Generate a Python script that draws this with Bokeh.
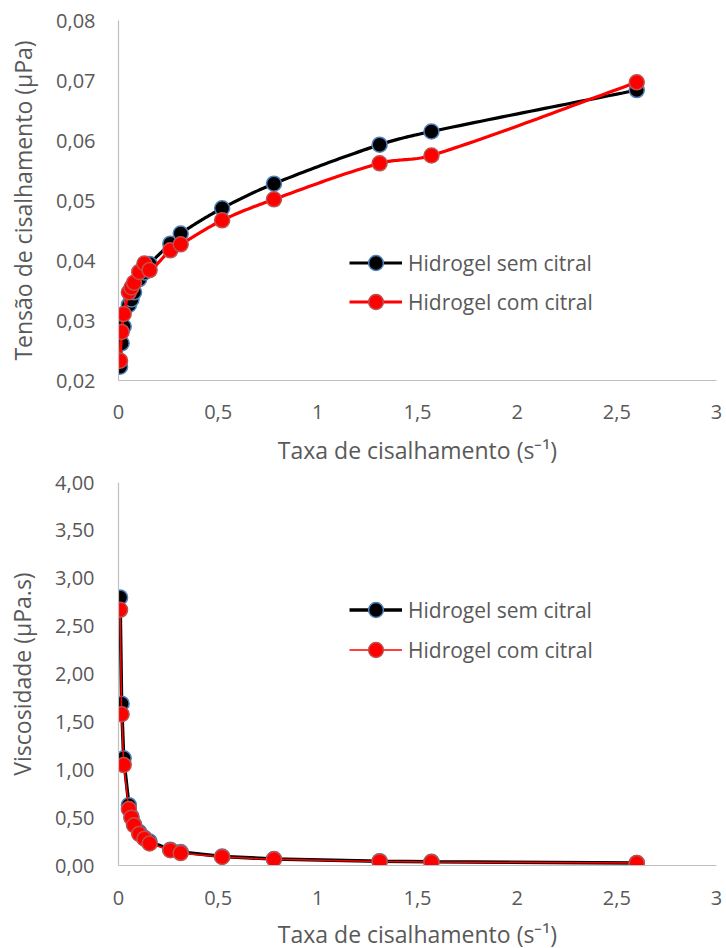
import numpy as np
from bokeh.plotting import figure
from bokeh.models import (FixedTicker, CustomJSTickFormatter, Range1d, Legend, LegendItem)
from bokeh.core.properties import value
from bokeh.layouts import column
from bokeh.embed import file_html
from bokeh.resources import INLINE

# ---------------- data ----------------
shear_rate = [0.0078, 0.0156, 0.026, 0.052, 0.065, 0.078, 0.104, 0.13, 0.156,
              0.26, 0.312, 0.52, 0.78, 1.31, 1.57, 2.60]

stress_sem = [0.0223, 0.0262, 0.0290, 0.0326, 0.0335, 0.0347, 0.0369, 0.0380, 0.0394,
              0.0428, 0.0445, 0.0487, 0.0528, 0.0593, 0.0615, 0.0684]
stress_com = [0.0233, 0.0281, 0.0311, 0.0347, 0.0355, 0.0363, 0.0381, 0.0395, 0.0384,
              0.0417, 0.0427, 0.0467, 0.0502, 0.0562, 0.0575, 0.0697]

visc_sem = [2.80, 1.69, 1.12, 0.63, 0.51, 0.43, 0.35, 0.29, 0.25,
            0.165, 0.14, 0.094, 0.068, 0.045, 0.039, 0.026]
visc_com = [2.67, 1.58, 1.05, 0.59, 0.50, 0.42, 0.33, 0.28, 0.23,
            0.16, 0.13, 0.09, 0.064, 0.043, 0.036, 0.027]

series_names = ["Hidrogel sem citral", "Hidrogel com citral"]

x_ticks = [0, 0.5, 1, 1.5, 2, 2.5, 3]
x_tick_labels = ["0", "0,5", "1", "1,5", "2", "2,5", "3"]
y1_ticks = [0.02, 0.03, 0.04, 0.05, 0.06, 0.07, 0.08]
y1_tick_labels = ["0,02", "0,03", "0,04", "0,05", "0,06", "0,07", "0,08"]
y2_ticks = [0, 0.5, 1, 1.5, 2, 2.5, 3, 3.5, 4]
y2_tick_labels = ["0,00", "0,50", "1,00", "1,50", "2,00", "2,50", "3,00", "3,50", "4,00"]

x_title = "Taxa de cisalhamento (s\u207b\u00b9)"
y1_title = "Tensão de cisalhamento (µPa)"
y2_title = "Viscosidade (µPa.s)"

# ---------------- style ----------------
FONT = "Open Sans"
TXT = "#595959"
AXIS = "#BFBFBF"
BLACK_OUT = "#4F81BD"
RED_OUT = "#C0504D"


def smooth(xs, ys, n=30):
    """Smoothed line through the points (cubic Hermite, parametrised by x)."""
    x = np.asarray(xs, float)
    y = np.asarray(ys, float)
    m = len(x)
    slopes = np.empty(m)
    for i in range(m):
        a = max(i - 1, 0)
        b = min(i + 1, m - 1)
        slopes[i] = (y[b] - y[a]) / (x[b] - x[a])
    ox, oy = [x[0]], [y[0]]
    for i in range(m - 1):
        h = x[i + 1] - x[i]
        t = np.linspace(0, 1, n)[1:]
        h00 = 2 * t**3 - 3 * t**2 + 1
        h10 = t**3 - 2 * t**2 + t
        h01 = -2 * t**3 + 3 * t**2
        h11 = t**3 - t**2
        ox.extend(x[i] + t * h)
        oy.extend(h00 * y[i] + h10 * h * slopes[i] + h01 * y[i + 1] + h11 * h * slopes[i + 1])
    return np.array(ox), np.array(oy)


def fmt(ticks, labels):
    return CustomJSTickFormatter(args=dict(t=ticks, l=labels), code="""
        let best = 0; let d = 1e9;
        for (let i = 0; i < t.length; i++) {
            const dd = Math.abs(t[i] - tick);
            if (dd < d) { d = dd; best = i; }
        }
        return l[best];
    """)


def base_fig(height, left, right, top, bottom, yr, yt, ylab, ytitle, ystand, xstand, with_xtitle):
    p = figure(width=726, height=height, output_backend="svg", toolbar_location=None,
               x_range=Range1d(0, 3), y_range=Range1d(*yr),
               min_border_left=left, min_border_right=right,
               min_border_top=top, min_border_bottom=bottom)
    p.outline_line_color = None
    p.xgrid.visible = False
    p.ygrid.visible = False
    p.background_fill_color = "white"
    p.border_fill_color = "white"
    for ax in (p.xaxis[0], p.yaxis[0]):
        ax.axis_line_color = AXIS
        ax.axis_line_width = 1.2
        ax.major_tick_line_color = None
        ax.minor_tick_line_color = None
        ax.major_tick_out = 0
        ax.major_tick_in = 0
        ax.major_label_text_font = FONT
        ax.major_label_text_font_size = "20px"
        ax.major_label_text_color = TXT
        ax.axis_label_text_font = FONT
        ax.axis_label_text_font_size = "23px"
        ax.axis_label_text_color = TXT
        ax.axis_label_text_font_style = "normal"
    p.xaxis.ticker = FixedTicker(ticks=x_ticks)
    p.xaxis.formatter = fmt(x_ticks, x_tick_labels)
    p.xaxis.major_label_standoff = xstand
    if with_xtitle:
        p.xaxis.axis_label = x_title
        p.xaxis.axis_label_standoff = 12
    p.yaxis.ticker = FixedTicker(ticks=yt)
    p.yaxis.formatter = fmt(yt, ylab)
    p.yaxis.major_label_standoff = ystand
    p.yaxis.axis_label = ytitle
    p.yaxis.axis_label_standoff = 14
    return p


# ---------------- top chart ----------------
p1 = base_fig(470, 118, 9, 20, 90, (0.02, 0.08), y1_ticks, y1_tick_labels, y1_title, 23, 24, True)

sx, sy = smooth(shear_rate, stress_sem)
l1 = p1.line(sx, sy, line_color="black", line_width=3.2)
m1 = p1.scatter(shear_rate, stress_sem, size=15, marker="circle",
                fill_color="black", line_color=BLACK_OUT, line_width=1.5)
cx, cy = smooth(shear_rate, stress_com)
l2 = p1.line(cx, cy, line_color="#FF0000", line_width=3.2)
m2 = p1.scatter(shear_rate, stress_com, size=15, marker="circle",
                fill_color="#FF0000", line_color=RED_OUT, line_width=1.5)

leg1 = Legend(items=[LegendItem(label=series_names[0], renderers=[l1, m1]),
                     LegendItem(label=series_names[1], renderers=[l2, m2])],
              location=(231, 60), orientation="vertical",
              glyph_width=53, glyph_height=37, label_height=20, label_standoff=6,
              spacing=2, padding=0, margin=0,
              border_line_color=None, background_fill_alpha=0,
              label_text_font=FONT, label_text_font_size="21px", label_text_color=TXT)
p1.add_layout(leg1)

# ---------------- bottom chart ----------------
p2 = base_fig(448, 115, 10, 12, 53, (0, 4), y2_ticks, y2_tick_labels, y2_title, 24, 25, False)

b1 = p2.line(shear_rate, visc_sem, line_color="black", line_width=3.5)
n1 = p2.scatter(shear_rate, visc_sem, size=15, marker="circle",
                fill_color="black", line_color=BLACK_OUT, line_width=1.5)
b2 = p2.line(shear_rate, visc_com, line_color="#FF0000", line_width=1.5)
n2 = p2.scatter(shear_rate, visc_com, size=15, marker="circle",
                fill_color="#FF0000", line_color=RED_OUT, line_width=1.5)

leg2 = Legend(items=[LegendItem(label=series_names[0], renderers=[b1, n1]),
                     LegendItem(label=series_names[1], renderers=[b2, n2])],
              location=(231, 197), orientation="vertical",
              glyph_width=53, glyph_height=37, label_height=20, label_standoff=6,
              spacing=3, padding=0, margin=0,
              border_line_color=None, background_fill_alpha=0,
              label_text_font=FONT, label_text_font_size="21px", label_text_color=TXT)
p2.add_layout(leg2)

# ---------------- x-axis title strip for the bottom chart ----------------
p3 = figure(width=726, height=30, output_backend="svg", toolbar_location=None,
            x_range=Range1d(0, 3), y_range=Range1d(0, 30),
            min_border_left=115, min_border_right=10, min_border_top=0, min_border_bottom=0)
p3.xaxis.visible = False
p3.yaxis.visible = False
p3.xgrid.visible = False
p3.ygrid.visible = False
p3.outline_line_color = None
p3.text(x=[1.5], y=[15], text=[x_title], text_align="center", text_baseline="middle",
        text_font=value(FONT), text_font_size="23px", text_color=TXT)

layout = column(p1, p2, p3, spacing=0)
open("out.html", "w").write(file_html(layout, INLINE))
